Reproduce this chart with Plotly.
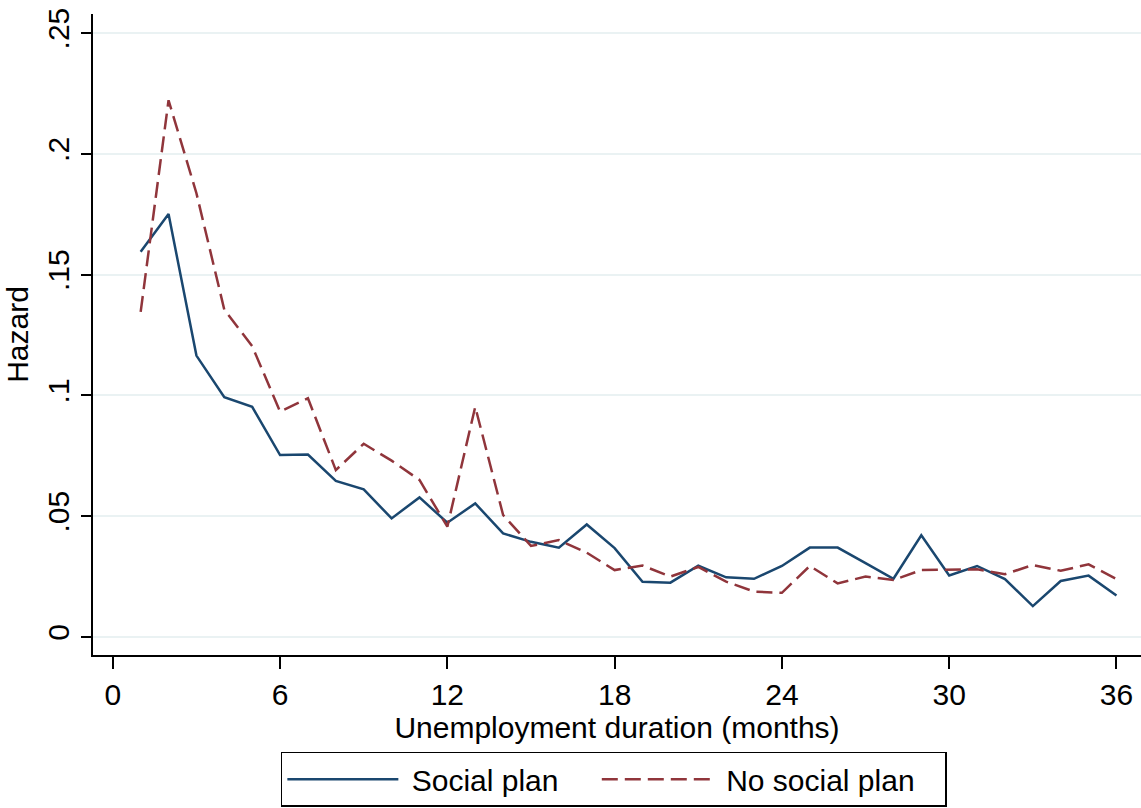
import plotly.graph_objects as go

# Monthly hazard of leaving unemployment, by social-plan status
months = list(range(1, 37))
social_plan = [
    0.1595, 0.1751, 0.1165, 0.0993, 0.0953, 0.0753, 0.0755, 0.0646, 0.0611, 0.0491,
    0.0578, 0.0473, 0.0553, 0.0429, 0.0394, 0.0370, 0.0466, 0.0368, 0.0229, 0.0225,
    0.0295, 0.0247, 0.0241, 0.0294, 0.0370, 0.0370, 0.0306, 0.0241, 0.0421, 0.0255,
    0.0294, 0.0240, 0.0128, 0.0232, 0.0254, 0.0172,
]
no_social_plan = [
    0.1346, 0.2222, 0.1837, 0.1355, 0.1204, 0.0933, 0.0988, 0.0691, 0.0800, 0.0730,
    0.0650, 0.0457, 0.0953, 0.0505, 0.0377, 0.0401, 0.0349, 0.0277, 0.0296, 0.0250,
    0.0290, 0.0229, 0.0188, 0.0183, 0.0294, 0.0222, 0.0250, 0.0236, 0.0277, 0.0280,
    0.0280, 0.0260, 0.0298, 0.0274, 0.0301, 0.0240,
]

x_ticks = [0, 6, 12, 18, 24, 30, 36]
y_ticks = [0, 0.05, 0.10, 0.15, 0.20, 0.25]
y_tick_text = ["0", ".05", ".1", ".15", ".2", ".25"]

FONT = "Arial, Liberation Sans, sans-serif"
FS = 30
NAVY = "#1a476f"
MAROON = "#90353b"
GRID = "#eaf2f3"
NBSP = "\u00a0"

fig = go.Figure()
fig.add_trace(go.Scatter(
    x=months, y=social_plan, mode="lines", name=NBSP + "Social plan" + NBSP * 4,
    line=dict(color=NAVY, width=2.5),
))
fig.add_trace(go.Scatter(
    x=months, y=no_social_plan, mode="lines", name=NBSP + "No social plan" + NBSP * 3,
    line=dict(color=MAROON, width=2.5, dash="16px,7px"),
))

fig.update_layout(
    width=1141, height=808,
    margin=dict(l=93, r=0, t=14, b=153),
    paper_bgcolor="white", plot_bgcolor="white",
    font=dict(family=FONT, size=FS, color="black"),
    showlegend=True,
    legend=dict(
        orientation="h",
        x=0.497, xanchor="center",
        y=-0.151, yanchor="top",
        bordercolor="black", borderwidth=1.5,
        bgcolor="white",
        font=dict(family=FONT, size=FS, color="black"),
        itemwidth=111,
        tracegroupgap=0,
    ),
)

fig.update_xaxes(
    range=[-0.71, 36.88],
    tickmode="array", tickvals=x_ticks,
    ticks="outside", ticklen=12, tickwidth=1.5, tickcolor="black",
    showline=True, linecolor="black", linewidth=1.5,
    showgrid=False, zeroline=False,
    tickfont=dict(family=FONT, size=FS),
    title=dict(text="Unemployment duration (months)", standoff=0,
               font=dict(family=FONT, size=FS)),
)
fig.update_yaxes(
    range=[-0.00745, 0.2579],
    tickmode="array", tickvals=y_ticks, ticktext=y_tick_text,
    tickangle=-90,
    ticks="outside", ticklen=10, tickwidth=1.5, tickcolor="black",
    showline=True, linecolor="black", linewidth=1.5,
    showgrid=True, gridcolor=GRID, gridwidth=2,
    zeroline=False,
    tickfont=dict(family=FONT, size=FS),
    title=dict(text="Hazard", standoff=5, font=dict(family=FONT, size=FS)),
)

fig.write_html("out.html")
